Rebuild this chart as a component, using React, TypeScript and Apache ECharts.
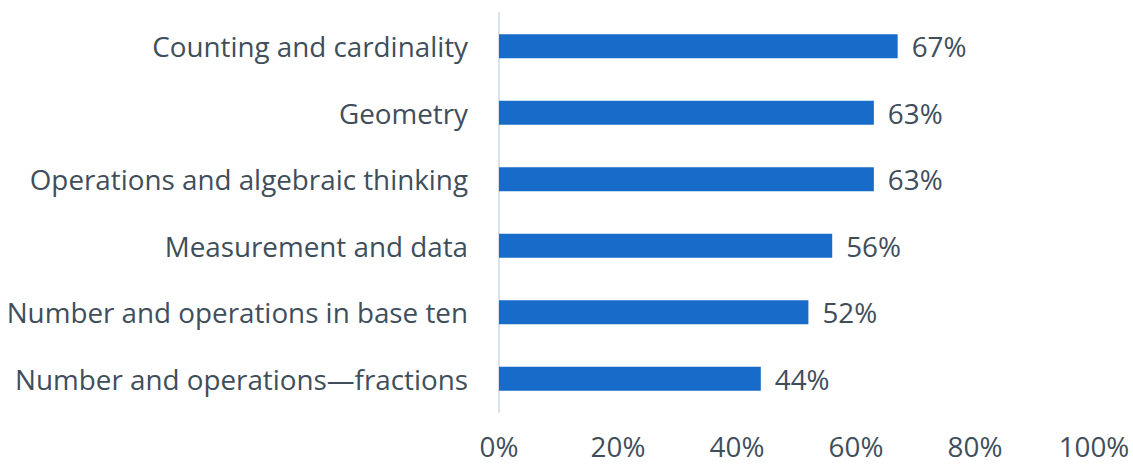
import React, { useEffect, useRef } from "react";
import * as echarts from "echarts";

const categories = [
  "Number and operations\u2014fractions",
  "Number and operations in base ten",
  "Measurement and data",
  "Operations and algebraic thinking",
  "Geometry",
  "Counting and cardinality",
];
const values = [44, 52, 56, 63, 63, 67];
const tickValues = [0, 20, 40, 60, 80, 100];

const FONT = "'Open Sans', Lato, sans-serif";
const TEXT = "#3F4E5B";
const FS = 27.8;

export default function App() {
  const ref = useRef<HTMLDivElement>(null);
  useEffect(() => {
    document.body.style.margin = "0";
    const chart = echarts.init(ref.current!, null, { renderer: "svg" });
    chart.setOption({
      animation: false,
      grid: { left: 499, right: 39, top: 13, bottom: 54, containLabel: false },
      xAxis: {
        type: "value",
        min: 0,
        max: 100,
        interval: 20,
        axisLine: { show: false },
        axisTick: { show: false },
        splitLine: { show: false },
        axisLabel: {
          formatter: (v: number) => (tickValues.includes(v) ? v + "%" : ""),
          color: TEXT,
          fontFamily: FONT,
          fontSize: FS,
          lineHeight: 26,
          margin: 21,
        },
      },
      yAxis: {
        type: "category",
        data: categories,
        axisLine: { show: true, lineStyle: { color: "#D9E1EE", width: 2 } },
        axisTick: { show: false },
        axisLabel: {
          color: TEXT,
          fontFamily: FONT,
          fontSize: FS,
          margin: 31,
        },
      },
      series: [
        {
          type: "bar",
          data: values,
          barWidth: 24,
          itemStyle: { color: "#176BC9" },
          label: {
            show: true,
            position: "right",
            distance: 14,
            formatter: (p: any) => p.value + "%",
            color: TEXT,
            fontFamily: FONT,
            fontSize: FS,
          },
        },
      ],
    });
    return () => chart.dispose();
  }, []);
  return <div ref={ref} style={{ width: 1133, height: 466 }} />;
}
